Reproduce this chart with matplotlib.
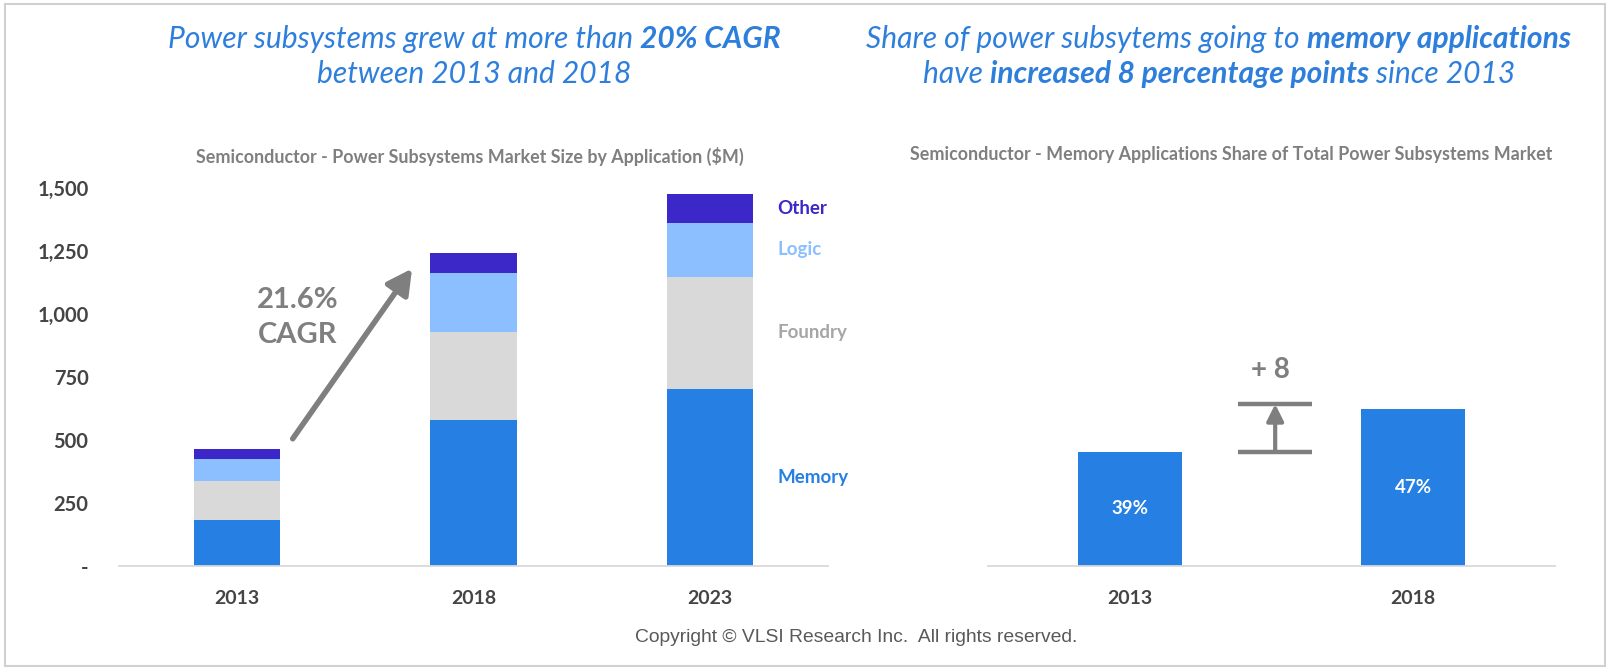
import matplotlib
matplotlib.use("Agg")
import matplotlib.pyplot as plt
from matplotlib.patches import Rectangle
import numpy as np

# ---------------- data ----------------
years_left = ["2013", "2018", "2023"]
seg_names = ["Memory", "Foundry", "Logic", "Other"]
memory = [183, 579, 702]
foundry = [156, 351, 446]
logic = [86, 233, 213]
other = [40, 79, 115]
yticks_left = [0, 250, 500, 750, 1000, 1250, 1500]
ytick_labels_left = ["-", "250", "500", "750", "1,000", "1,250", "1,500"]
cagr_label = "21.6%\nCAGR"

years_right = ["2013", "2018"]
share_base = 20
delta_label = "+ 8"

# ---------------- style ----------------
FONT = "Lato"
C_MEM = "#2680E3"
C_FOU = "#D9D9D9"
C_LOG = "#8BBFFF"
C_OTH = "#3C28C8"
C_TITLE = "#2D7FDB"
C_TICK = "#444444"
C_SUB = "#7F7F7F"
C_ANN = "#7F7F7F"
seg_colors = [C_MEM, C_FOU, C_LOG, C_OTH]
label_colors = [C_MEM, "#A6A6A6", C_LOG, C_OTH]

fig = plt.figure(figsize=(16.1, 6.7), dpi=100)
fig.patch.set_facecolor("white")
fig.add_artist(Rectangle((0.003, 0.006), 0.994, 0.988, transform=fig.transFigure,
                         fill=False, ec="#D0D0D0", lw=1.5))

ax1 = fig.add_axes([0.0739, 0.1552, 0.4404, 0.5642])
ax2 = fig.add_axes([0.6137, 0.1552, 0.3521, 0.5642])

# ---------------- left stacked chart ----------------
x = np.arange(len(years_left))
series = [memory, foundry, logic, other]
bottom = np.zeros(len(years_left))
mids_last = []
for vals, col in zip(series, seg_colors):
    vals = np.array(vals, dtype=float)
    ax1.bar(x, vals, width=0.365, bottom=bottom, color=col, zorder=2)
    mids_last.append(bottom[-1] + vals[-1] / 2)
    bottom = bottom + vals
totals = bottom

ax1.set_xlim(-0.5, len(years_left) - 0.5)
ax1.set_ylim(0, 1500)
ax1.set_yticks(yticks_left)
ax1.set_yticklabels(ytick_labels_left)
ax1.set_xticks(x)
ax1.set_xticklabels(years_left)

for ax in (ax1, ax2):
    for s in ("top", "right", "left"):
        ax.spines[s].set_visible(False)
    ax.spines["bottom"].set_color("#D9D9D9")
    ax.spines["bottom"].set_linewidth(1.3)
    ax.tick_params(axis="both", length=0)
    ax.tick_params(axis="x", pad=17)
    ax.tick_params(axis="y", pad=22)
    for lab in ax.get_xticklabels() + ax.get_yticklabels():
        lab.set_fontfamily(FONT)
        lab.set_fontweight("bold")
        lab.set_color(C_TICK)
        lab.set_fontsize(14)

for lab in ax1.get_yticklabels():
    lab.set_fontsize(14.5)

# segment labels next to last bar
for name, ym, col in zip(seg_names, mids_last, label_colors):
    ax1.text(2.285, ym, name, ha="left", va="center", fontfamily=FONT,
             fontweight="bold", fontsize=13.5, color=col)

# CAGR arrow and label
ax1.annotate("", xy=(0.74, totals[1] - 62), xytext=(0.235, totals[0] + 40),
             arrowprops=dict(arrowstyle="-|>,head_width=0.4,head_length=0.75",
                             mutation_scale=20, color=C_ANN, lw=4,
                             shrinkA=0, shrinkB=0), zorder=3)
ax1.text(0.257, 986, cagr_label, ha="center", va="center", fontfamily=FONT,
         fontweight="bold", fontsize=21, color=C_ANN, linespacing=1.4)

# ---------------- right share chart ----------------
share = [m / t * 100 for m, t in zip(memory[:2], totals[:2])]
share_labels = [f"{round(v)}%" for v in share]
x2 = np.arange(len(years_right))
ax2.bar(x2, share, width=0.366, color=C_MEM, zorder=2)
ax2.set_xlim(-0.5, len(years_right) - 0.5)
ax2.set_ylim(share_base, 84)
ax2.set_yticks([])
ax2.set_xticks(x2)
ax2.set_xticklabels(years_right)
for lab in ax2.get_xticklabels():
    lab.set_fontfamily(FONT)
    lab.set_fontweight("bold")
    lab.set_color(C_TICK)
    lab.set_fontsize(14)

for xi, v, lab in zip(x2, share, share_labels):
    ax2.text(xi, (share_base + v) / 2, lab, ha="center", va="center",
             fontfamily=FONT, fontweight="bold", fontsize=13.5, color="white")

top_line = share[1] + 0.8
ax2.hlines([share[0], top_line], 0.383, 0.644, color=C_ANN, lw=3.2, zorder=3)
ax2.annotate("", xy=(0.513, top_line), xytext=(0.513, share[0]),
             arrowprops=dict(arrowstyle="-|>,head_width=0.25,head_length=0.5",
                             mutation_scale=20, color=C_ANN, lw=3,
                             shrinkA=0, shrinkB=0), zorder=3)
ax2.text(0.495, top_line + 5.7, delta_label, ha="center", va="center",
         fontfamily=FONT, fontweight="bold", fontsize=20, color=C_ANN)

# ---------------- titles ----------------
def rich_line(xc, y, segments, size, color):
    renderer = fig.canvas.get_renderer()
    texts = []
    for s, w in segments:
        t = fig.text(0, y, s, fontfamily=FONT, fontstyle="italic", fontweight=w,
                     fontsize=size, color=color, ha="left", va="center")
        texts.append(t)
    widths = [t.get_window_extent(renderer).width for t in texts]
    W = fig.get_figwidth() * fig.dpi
    xpos = xc * W - sum(widths) / 2
    for t, w in zip(texts, widths):
        t.set_x(xpos / W)
        xpos += w

TS = 21.6
rich_line(0.2946, 0.9418, [("Power subsystems grew at more than ", "normal"),
                           ("20% CAGR", "bold")], TS, C_TITLE)
rich_line(0.2946, 0.8896, [("between 2013 and 2018", "normal")], TS, C_TITLE)
rich_line(0.757, 0.9418, [("Share of power subsytems going to ", "normal"),
                          ("memory applications", "bold")], TS, C_TITLE)
rich_line(0.757, 0.8896, [("have ", "normal"), ("increased 8 percentage points", "bold"),
                          (" since 2013", "normal")], TS, C_TITLE)

fig.text(0.292, 0.7657, "Semiconductor - Power Subsystems Market Size by Application ($M)",
         ha="center", va="center", fontfamily=FONT, fontweight="bold",
         fontsize=12.9, color=C_SUB)
fig.text(0.7646, 0.770, "Semiconductor - Memory Applications Share of Total Power Subsystems Market",
         ha="center", va="center", fontfamily=FONT, fontweight="bold",
         fontsize=12.9, color=C_SUB)

fig.text(0.532, 0.0483, "Copyright \u00a9 VLSI Research Inc.  All rights reserved.",
         ha="center", va="center", fontfamily="Liberation Sans", fontsize=13.9,
         color="#595959")

fig.savefig("out.png", dpi=100, facecolor="white")
